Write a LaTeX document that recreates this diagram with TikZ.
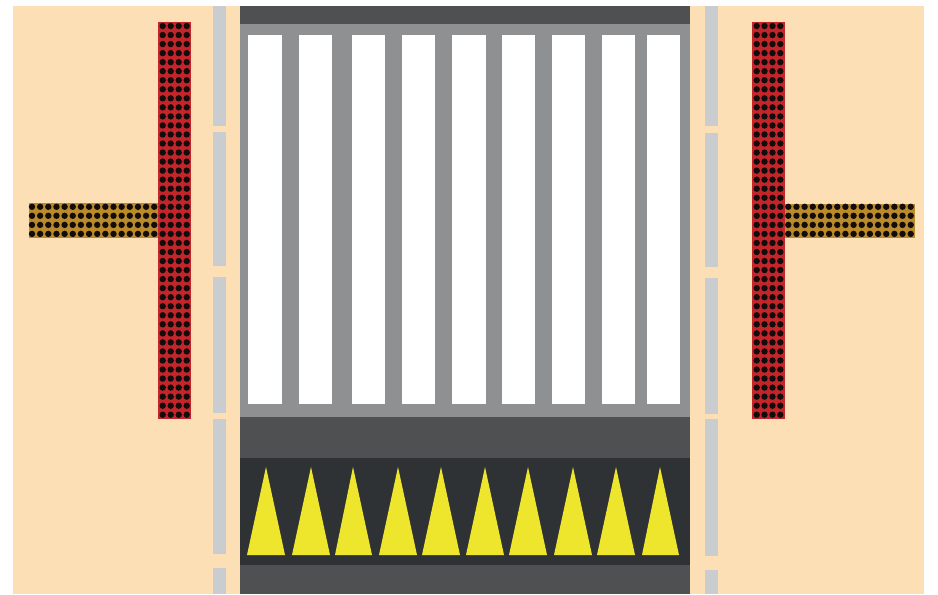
\documentclass[tikz,border=0pt]{standalone}
\definecolor{sandbeige}{HTML}{FCDFB5}
\definecolor{railgray}{HTML}{CACDD0}
\definecolor{framegray}{HTML}{8E9091}
\definecolor{banddark}{HTML}{4E5051}
\definecolor{banddarker}{HTML}{2F3235}
\definecolor{spikeyellow}{HTML}{EEE62C}
\definecolor{barred}{HTML}{C4252A}
\definecolor{barbrown}{HTML}{B98B2B}
\definecolor{dotblack}{HTML}{140C0A}

\begin{document}
\begin{tikzpicture}[
  x=0.25mm,
  y=-0.25mm,
  line join=round,
  spike/.style={fill=spikeyellow},
  slat/.style={fill=white},
  rail/.style={fill=railgray},
  redbar/.style={fill=barred},
  brownbar/.style={fill=barbrown},
  dot/.style={fill=dotblack}
]
  % Match the artwork frame, white margins included.
  \useasboundingbox (0,0) rectangle (938,595);
  \fill[white] (0,0) rectangle (938,595);
  \fill[sandbeige] (13,6) rectangle (924,594);

  % Central column: bands from top to bottom.
  \fill[framegray] (240,24) rectangle (690,417);
  \fill[banddark] (240,6) rectangle (690,24);
  \fill[banddark] (240,417) rectangle (690,458);
  \fill[banddarker] (240,458) rectangle (690,565);
  \fill[banddark] (240,565) rectangle (690,594);

  % White slats.
  \foreach \xa/\xb in {248/282,299/332,352/385,402/435,452/486,502/535,552/585,602/635,647/680} {
    \fill[slat] (\xa,35) rectangle (\xb,404);
  }

  % Yellow spikes: left foot, apex, right foot.
  \foreach \xa/\xm/\xb in {247/266/285,292/311/330,335/353/372,379/398/417,422/441/460,
    466/485/504,509/528/547,554/573/592,597/616/635,642/660/679} {
    \fill[spike] (\xa,555) -- (\xm,467) -- (\xb,555) -- cycle;
  }

  % Broken rails on both sides of the column.
  \foreach \ya/\yb in {6/126,132/266,277/413,419/554,568/594} {
    \fill[rail] (213,\ya) rectangle (226,\yb);
  }
  \foreach \ya/\yb in {6/126,133/267,278/414,419/556,570/594} {
    \fill[rail] (705,\ya) rectangle (718,\yb);
  }

  % Red and brown perforated bars.
  \fill[brownbar] (29,203) rectangle (158,238);
  \fill[brownbar] (785,204) rectangle (915,238);
  \fill[redbar] (158,22) rectangle (191,419);
  \fill[redbar] (752,22) rectangle (785,419);

  % Dots of the red bars.
  \foreach \n in {0,...,43} {
    \foreach \xd in {162.7,170.7,178.7,186.7,756.7,764.5,772.5,780.3} {
      \fill[dot] (\xd,26+9.04*\n) circle[radius=0.8mm];
    }
  }

  % Dots of the brown bars.
  \foreach \yd in {206.8,215.8,224.9,233.9} {
    \foreach \n in {0,...,15} {
      \fill[dot] (32+8.15*\n,\yd) circle[radius=0.8mm];
      \fill[dot] (788.3+8.16*\n,\yd) circle[radius=0.8mm];
    }
  }
\end{tikzpicture}
\end{document}
